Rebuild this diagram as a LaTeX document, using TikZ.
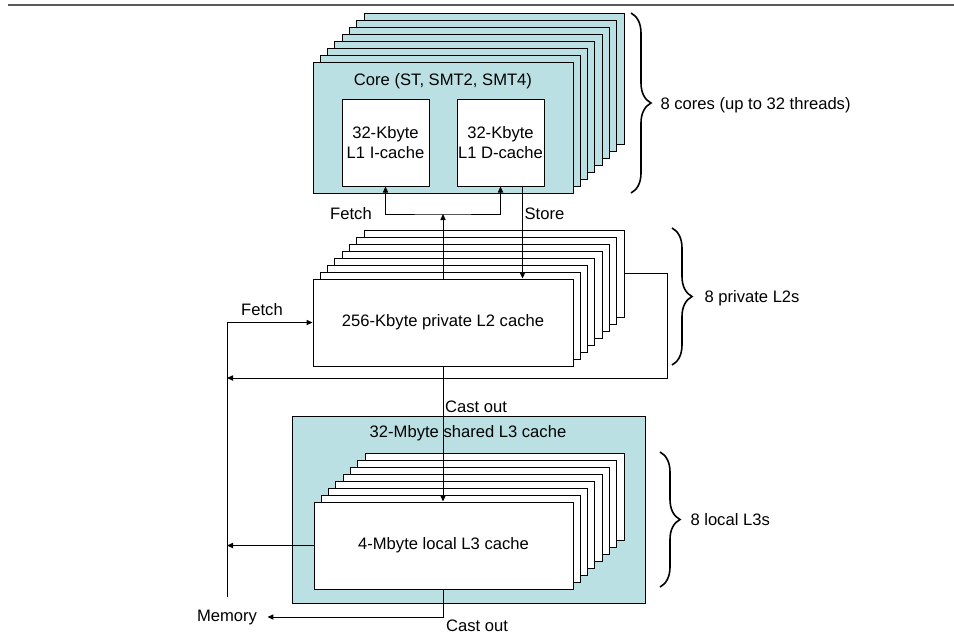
\documentclass[tikz,border=0pt]{standalone}
\usepackage{fontspec}
\setmainfont{Liberation Sans}
\usetikzlibrary{arrows.meta, decorations.pathreplacing}
\definecolor{coreteal}{RGB}{186,224,227}

\begin{document}
\begin{tikzpicture}[x=0.5pt, y=-0.5pt, ->, >={Triangle[length=3pt,width=2.6pt]}, line width=0.5pt,
        font=\fontsize{8.3}{10}\selectfont,
        corebox/.style={draw, fill=coreteal, minimum width=130pt, minimum height=65.5pt, inner sep=0pt},
        l1box/.style={draw, fill=white, minimum width=43.5pt, minimum height=43.5pt, align=center, inner sep=0pt},
        l2box/.style={draw, fill=white, minimum width=130pt, minimum height=43.5pt, inner sep=0pt},
        l3box/.style={draw, fill=white, minimum width=129.5pt, minimum height=43.5pt, inner sep=0pt},
        lbl/.style={inner sep=0pt},
        llave/.style={-, line width=0.8pt, decorate, decoration={brace, amplitude=10pt}}]
        \useasboundingbox (0,0) rectangle (954,634);
        \draw[-, gray!70!black, line width=1pt] (8,5) -- (954,5);

        % Nucleos
        \foreach \i in {7,6,...,1}
            \node[corebox, xshift=\i*3.65pt, yshift=\i*3.5pt] (core-\i) at (443,127.5) {};
        \node[corebox] (core) at (443,127.5) {};
        \node[lbl] (coretitle) at (443,81) {Core (ST, SMT2, SMT4)};
        \node[l1box] (icache) at (385.5,142.5) {32-Kbyte\\L1 I-cache};
        \node[l1box] (dcache) at (500.5,142.5) {32-Kbyte\\L1 D-cache};

        % Caches L2
        \foreach \i in {7,6,...,1}
            \node[l2box, xshift=\i*3.65pt, yshift=\i*3.5pt] (l2-\i) at (443,322.5) {};
        \node[l2box] (l2) at (443,322.5) {256-Kbyte private L2 cache};

        % Cache L3 compartida
        \node[draw, fill=coreteal, minimum width=176.5pt, minimum height=93.5pt] (l3shared) at (468.5,509.5) {};
        \node[lbl] (l3title) at (468,433) {32-Mbyte shared L3 cache};
        \foreach \i in {7,6,...,1}
            \node[l3box, xshift=\i*3.65pt, yshift=\i*3.5pt] (l3-\i) at (443.5,545.5) {};
        \node[l3box] (l3) at (443.5,545.5) {4-Mbyte local L3 cache};

        % Etiquetas
        \node[lbl] (fetchl1) at (351,214) {Fetch};
        \node[lbl] (store) at (544.5,214) {Store};
        \node[lbl] (fetchl2) at (262,310) {Fetch};
        \node[lbl] (castl3) at (476,407) {Cast out};
        \node[lbl] (castmem) at (477,626) {Cast out};
        \node[lbl] (memory) at (227,617) {Memory};
        \node[lbl, anchor=west] (ncores) at (660,105) {8 cores (up to 32 threads)};
        \node[lbl, anchor=west] (nl2) at (704,298) {8 private L2s};
        \node[lbl, anchor=west] (nl3) at (690,520) {8 local L3s};

        % Puntos auxiliares
        \coordinate (fj) at (443,214);
        \coordinate (bus) at (227,597);
        \coordinate (ret) at (667,378);
        \coordinate (st) at ([xshift=-11pt]dcache.south east);

        % Flechas
        \draw (l2.north) -- (fj);
        \draw[<->] (icache.south) |- (fj) -| (dcache.south);
        \draw (st) -- (st |- l2.north);
        \draw (l2-7.east) -| (ret) -- (ret -| bus);
        \draw (bus) |- (l2.west);
        \draw (l2.south) -- (l2.south |- l3.north);
        \draw (l3.west) -- (l3.west -| bus);
        \draw (l3.south) |- ([xshift=5pt]memory.east);

        % Llaves
        \draw[llave] (631,13) -- (631,193);
        \draw[llave] (672,228) -- (672,365);
        \draw[llave] (660,452) -- (660,587);
    \end{tikzpicture}
\end{document}
